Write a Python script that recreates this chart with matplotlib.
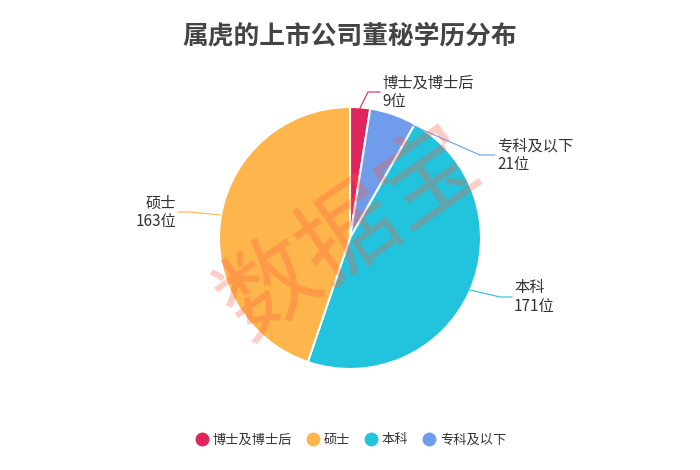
import matplotlib.pyplot as plt
from matplotlib.lines import Line2D

plt.rcParams['font.family'] = ['Noto Sans CJK SC', 'DejaVu Sans']

# pie order (clockwise from top)
names = ['博士及博士后', '专科及以下', '本科', '硕士']
counts = [9, 21, 171, 163]
colors = ['#E0245E', '#6F9CEB', '#22C3DC', '#FDB54C']
legend_order = ['博士及博士后', '硕士', '本科', '专科及以下']

fig = plt.figure(figsize=(7, 4.7), dpi=100)
cx, cy, r = 350, 238, 131
ax = fig.add_axes([(cx - r) / 700, (470 - cy - r) / 470, 2 * r / 700, 2 * r / 470])
wedges, _ = ax.pie(counts, colors=colors, startangle=90, counterclock=False,
                   wedgeprops=dict(edgecolor='white', linewidth=1.5))
ax.set_xlim(-1, 1)
ax.set_ylim(-1, 1)

def px(x, y):
    return ((x - cx) / r, (cy - y) / r)

# labels: (line start, elbow, end, text pos, ha)
labels = [
    ((360, 108), (368, 92), (380, 92), (382, 92), 'left'),
    ((400, 120), (480, 155), (495, 155), (497, 155), 'left'),
    ((470, 290), (500, 297), (512, 297), (514, 297), 'left'),
    ((220, 215), (190, 212), (178, 212), (176, 212), 'right'),
]
for i, (a, b, c, t, ha) in enumerate(labels):
    pts = [px(*a), px(*b), px(*c)]
    ax.plot([p[0] for p in pts], [p[1] for p in pts], color=colors[i], lw=0.8, clip_on=False)
    tx, ty = px(*t)
    ax.text(tx, ty, f'{names[i]}\n{counts[i]}位', ha=ha, va='center', fontsize=11,
            color='#333333', linespacing=1.1, clip_on=False)

fig.text(0.5, 1 - 36 / 470, '属虎的上市公司董秘学历分布', ha='center', va='center',
         fontsize=18.5, fontweight='bold', color='#444444')

fig.text(0.5, 0.5, '数据宝', rotation=35, ha='center', va='center', fontsize=70,
         color='#FF5A3C', alpha=0.3)

handles = [Line2D([], [], marker='o', ls='', markersize=9, color=colors[names.index(n)])
           for n in legend_order]
fig.legend(handles, legend_order, loc='center', bbox_to_anchor=(0.5, 1 - 440 / 470),
           ncol=4, frameon=False, fontsize=9.5, handletextpad=0.2, columnspacing=1.0,
           handlelength=1.2, labelcolor='#333333')

fig.savefig('out.png')
